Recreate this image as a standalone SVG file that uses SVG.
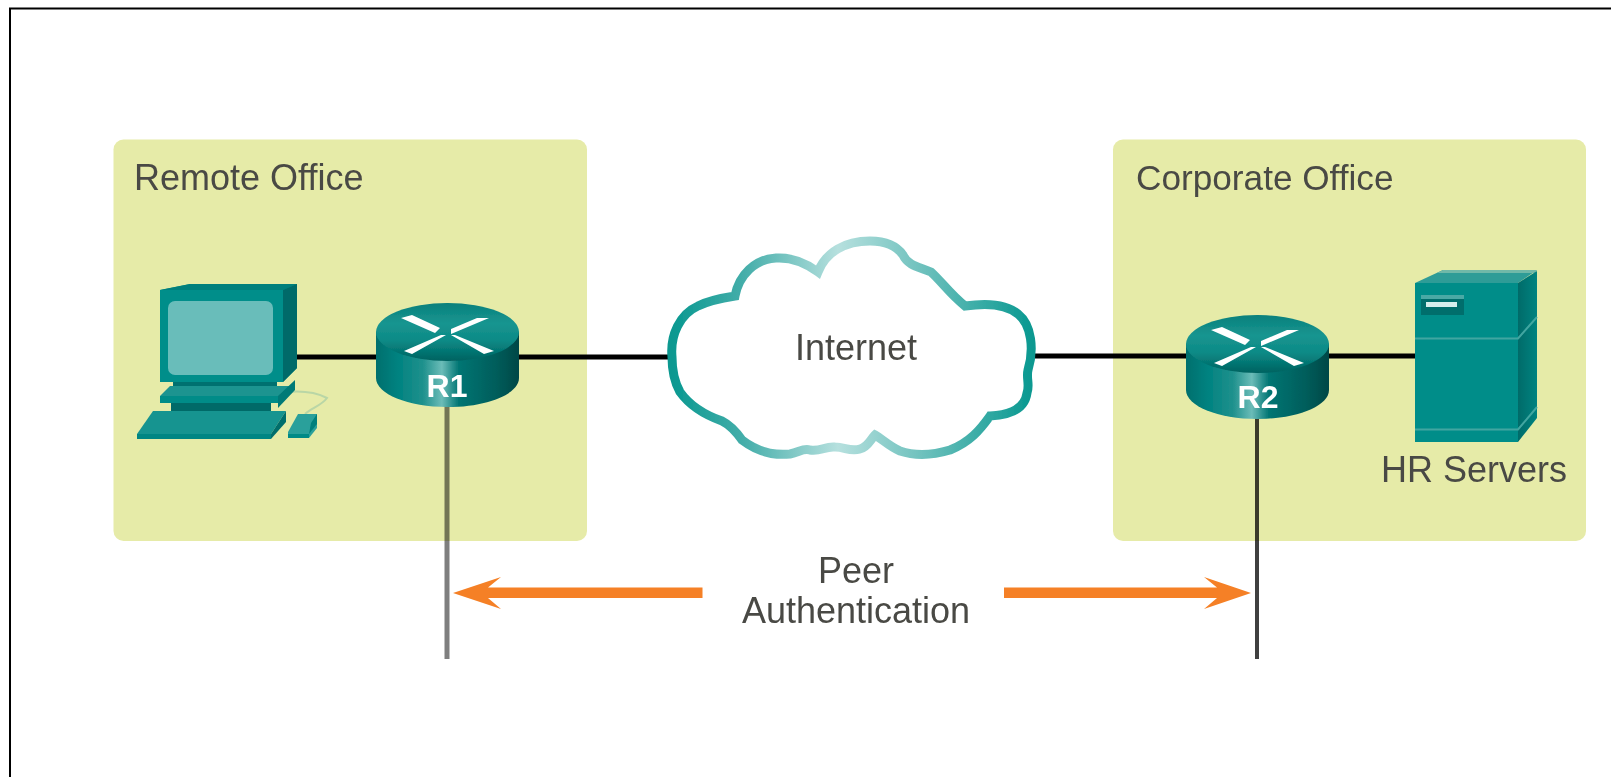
<svg xmlns="http://www.w3.org/2000/svg" xmlns:xlink="http://www.w3.org/1999/xlink" width="1611" height="777" viewBox="0 0 1611 777">
<style>
.panel{fill:#e6eba8}
.lbl{font-family:"Liberation Sans",Arial,sans-serif;font-size:36px;fill:#4a4a44}
.rt{font-family:"Liberation Sans",Arial,sans-serif;font-size:32px;font-weight:bold;fill:#fff;text-anchor:middle}
.link{stroke:#000;stroke-width:5;fill:none}
.orange{fill:#f58025}
.x{fill:#fff}
</style>
<defs>
<filter id="soft" filterUnits="userSpaceOnUse" x="0" y="0" width="1611" height="777"><feGaussianBlur stdDeviation="0.7"/></filter>
<linearGradient id="side" x1="0" x2="1" y1="0" y2="0">
<stop offset="0" stop-color="#006f6d"/><stop offset=".15" stop-color="#008280"/><stop offset=".33" stop-color="#1f918d"/><stop offset=".46" stop-color="#6bbcb8"/><stop offset=".58" stop-color="#007573"/><stop offset=".85" stop-color="#005c5a"/><stop offset="1" stop-color="#004746"/>
</linearGradient>
<linearGradient id="top" x1="0" x2="0" y1="0" y2="1">
<stop offset="0" stop-color="#07807c"/><stop offset=".35" stop-color="#199590"/><stop offset=".65" stop-color="#0b8a86"/><stop offset="1" stop-color="#006260"/>
</linearGradient>
<linearGradient id="cloudG" gradientUnits="userSpaceOnUse" x1="672" x2="1033" y1="0" y2="0">
<stop offset="0" stop-color="#089890"/><stop offset=".2" stop-color="#45aeaa"/><stop offset=".46" stop-color="#b6e0de"/><stop offset=".7" stop-color="#6cc0bc"/><stop offset="1" stop-color="#089890"/>
</linearGradient>
<linearGradient id="srvSide" x1="0" x2="1" y1="0" y2="0">
<stop offset="0" stop-color="#006b69"/><stop offset="1" stop-color="#008380"/>
</linearGradient>
<g id="router">
<path d="M376 332V378C376 394 408 407 447.500 407S519 394 519 378V332Z" fill="url(#side)"/>
<ellipse cx="447.500" cy="332" rx="71.500" ry="29" fill="url(#top)"/>
<path class="x" d="M401 318L412 315L440 328L435 333ZM489 318L477 318L451 329L451 334ZM446 335L441 335L404 351L412 354ZM451 335L455 335L494 351L484 354Z"/>
</g>
</defs>
<g filter="url(#soft)">
<rect width="1611" height="777" fill="#fff"/>
<path id="frame" d="M10 777V8.500H1611" fill="none" stroke="#000" stroke-width="2"/>
<g id="remote-office">
<rect class="panel" x="113.500" y="139.500" width="473.500" height="401.500" rx="10"/>
<text class="lbl" x="134" y="190">Remote Office</text>
</g>
<g id="corporate-office">
<rect class="panel" x="1113" y="139.500" width="473" height="401.500" rx="10"/>
<text class="lbl" x="1136" y="190" style="font-size:35.200px">Corporate Office</text>
</g>
<g id="connectors">
<path class="link" d="M297 357H376M519 357H672M1033 356H1186M1329 356H1415"/>
<path d="M447 405V659" stroke="#000" stroke-opacity=".5" stroke-width="5" fill="none"/>
<path d="M1257 417V659" stroke="#000" stroke-opacity=".75" stroke-width="4" fill="none"/>
<path class="orange" d="M702.500 587.500V598H488L501 609L453 593L501 577L488 587.500Z"/>
<path class="orange" d="M1004 587.500V598H1217L1204 609L1251 593L1204 577L1217 587.500Z"/>
</g>
<g id="pc">
<path d="M288 392C300 391 315 392 327 398C322 405 312 408 305 414" fill="none" stroke="#b9d6a6" stroke-width="2"/>
<path d="M160 290L190 284H297V368L283 382H160Z" fill="#008e8a"/>
<path d="M160 290L190 284H297L283 290Z" fill="#057f7b"/>
<path d="M283 290L297 284V368L283 382Z" fill="#006b69"/>
<rect x="168" y="301" width="105" height="74" rx="7" fill="#69bdba"/>
<rect x="173" y="382" width="104" height="5" fill="#00716f"/>
<path d="M170 386H295L278 403H160V396Z" fill="#1c9490"/>
<path d="M160 396H278V403H160Z" fill="#008c88"/>
<path d="M278 396L295 380V390L278 408Z" fill="#007a77"/>
<rect x="171" y="403" width="100" height="9" fill="#006a68"/>
<path d="M153 411H286L271 434H137Z" fill="#169490"/>
<path d="M137 434H271V439H137Z" fill="#008683"/>
<path d="M271 434L286 411V422L271 439Z" fill="#006e6c"/>
<path d="M298 414H317V428L309 438H288V432Z" fill="#2aa09b"/>
<path d="M288 434H309V438H288Z" fill="#008a86"/>
<path d="M309 434L317 424V414L311 423Z" fill="#00807c"/>
</g>
<g id="R1">
<use xlink:href="#router" href="#router"/>
<text class="rt" x="447" y="397">R1</text>
</g>
<g id="internet">
<path d="M672 357C670 335 680 314 698 306C710 300 722 298 735 296C739 275 755 259 776 258C792 257 806 263 818 272C826 252 845 241 870 241C885 241 896 245 903 255C908 266 920 267 931 272C942 282 950 294 965 306C985 303 1005 303 1018 314C1032 325 1034 350 1028 370C1026 378 1030 385 1027 393C1025 408 1012 415 990 416C980 430 970 442 950 450C930 456 915 456 900 451C890 447 882 439 875 435C870 440 868 447 860 449C850 452 845 447 835 447C825 446 820 452 810 450C803 448 800 452 790 454C770 456 755 450 742 440C735 430 730 425 722 421C705 415 690 406 680 392C675 383 672 370 672 357Z" fill="#fff" stroke="url(#cloudG)" stroke-width="9"/>
<text class="lbl" x="795" y="360">Internet</text>
</g>
<g id="R2">
<use xlink:href="#router" href="#router" x="810" y="12"/>
<text class="rt" x="1258" y="408">R2</text>
</g>
<g id="hr-servers">
<path d="M1415 283L1443 270H1537L1518 283Z" fill="#2e9c97"/>
<path d="M1443 270H1537L1535 273H1437Z" fill="#6fb8a8"/>
<path d="M1518 283L1537 271V418L1518 442Z" fill="url(#srvSide)"/>
<rect x="1415" y="283" width="103" height="159" fill="#008d89"/>
<rect x="1421" y="295" width="43" height="20" fill="#006e6c"/>
<rect x="1421" y="295" width="43" height="4" fill="#4aa9a5"/>
<rect x="1426" y="302" width="31" height="5" fill="#d5eeec"/>
<path d="M1415 338.500H1518L1537 317" fill="none" stroke="#41a6a1" stroke-width="2"/>
<path d="M1415 429.500H1518L1537 407" fill="none" stroke="#41a6a1" stroke-width="2"/>
<text class="lbl" x="1381" y="482">HR Servers</text>
</g>
<g id="peer-auth">
<text class="lbl" x="856" y="583" text-anchor="middle">Peer</text>
<text class="lbl" x="856" y="623" text-anchor="middle">Authentication</text>
</g>
</g>
</svg>
